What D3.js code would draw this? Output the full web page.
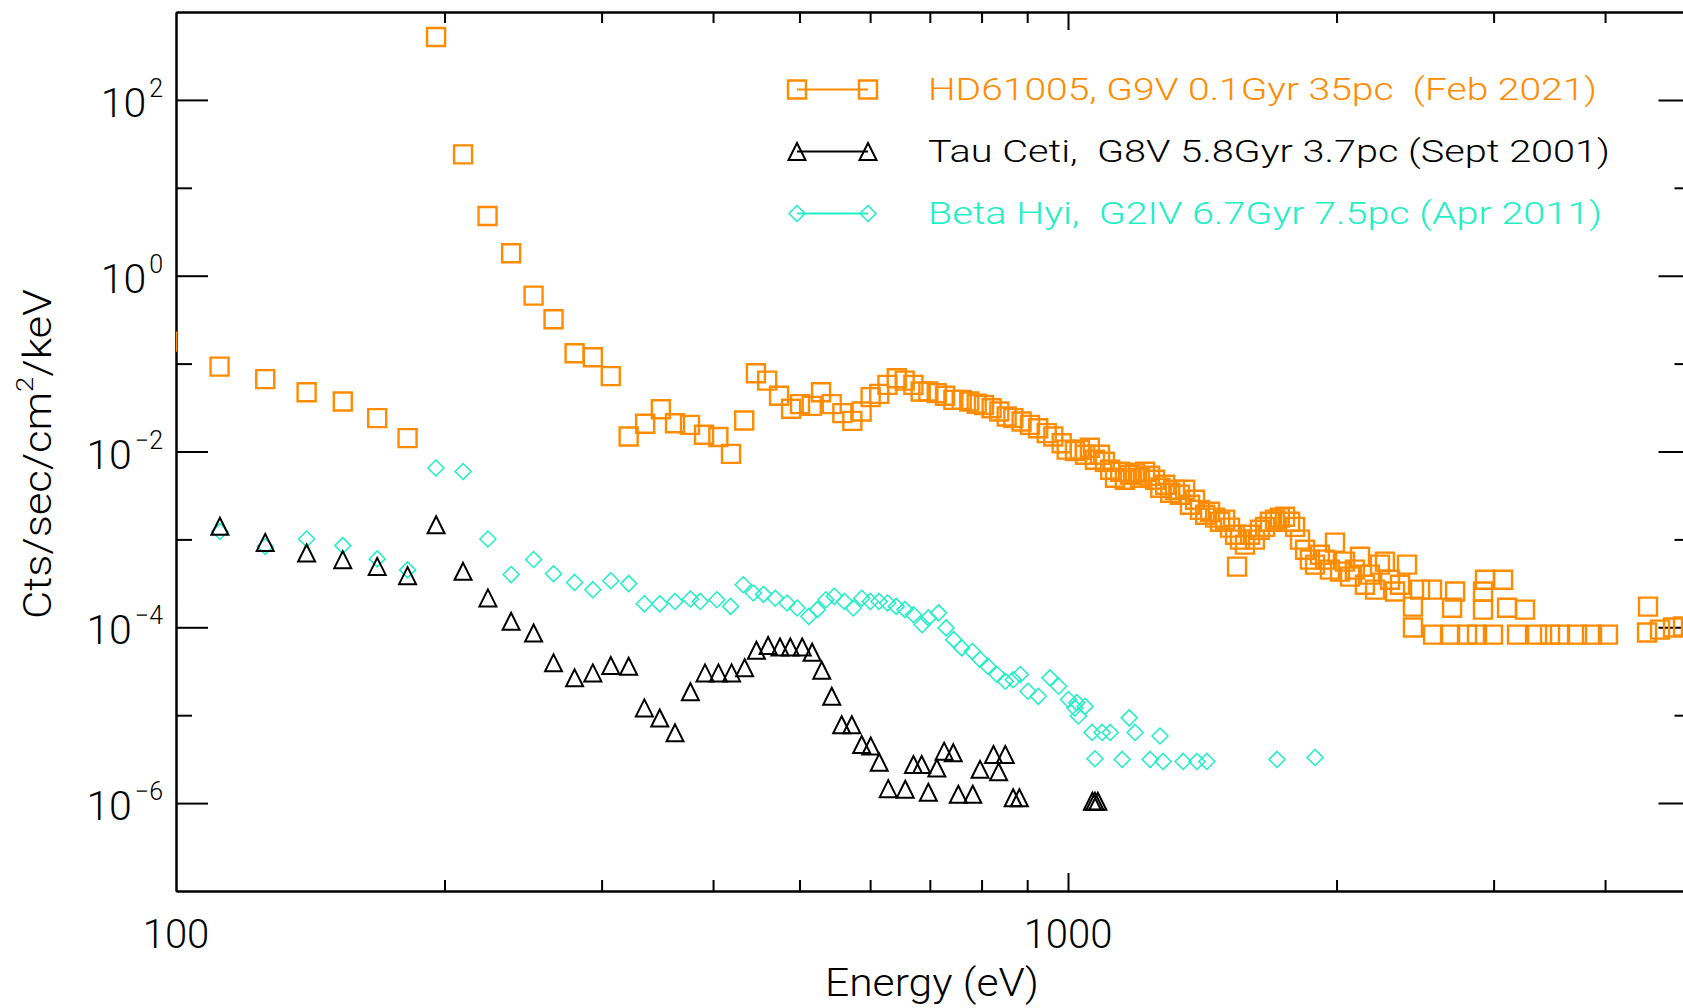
<!DOCTYPE html>
<html lang="en">
<head>
<meta charset="UTF-8">
<title>X-ray spectra of three G stars</title>
<style>
    html, body { margin: 0; padding: 0; background: #fff; }
    svg { display: block; }
    text { font-family: 'Roboto', 'Liberation Sans Narrow', 'Liberation Sans', sans-serif; font-weight: 300; white-space: pre; }
</style>
</head>
<body>
<script src="https://cdn.jsdelivr.net/npm/d3@7"></script>
<script>

    // HD61005 (orange squares)
    var hdEnergy = [97.7, 111.9, 125.9, 140.1, 153.8, 168.1, 181.8, 195.7, 209.8, 223.5, 237.5, 251.7, 265, 279.8,
        293.3, 307.2, 321.7, 335.7, 349.6, 362.6, 376.9, 390.8, 405.5, 419, 433.5, 446.8, 460, 474.3, 489.3, 500.7,
        516, 528.6, 543.4, 558.5, 573.1, 587, 600.8, 614.3, 627.4, 642.7, 656, 670.9, 683.7, 697.3, 712.6, 728,
        743.8, 760, 775, 790, 805, 821, 837.5, 853.5, 868.4, 887, 906.5, 926, 946.5, 962.7, 983.8, 996.6, 1018,
        1031, 1045, 1058, 1072, 1086, 1100, 1115, 1129, 1144, 1158, 1173, 1189, 1204, 1220, 1236, 1252, 1269, 1285,
        1302, 1318, 1335, 1353, 1370, 1388, 1406, 1425, 1443, 1462, 1481, 1500, 1519, 1539, 1547, 1559, 1579, 1600,
        1620, 1641, 1663, 1684, 1706, 1728, 1751, 1774, 1797, 1820, 1844, 1867, 1892, 1916, 1941, 1966, 1992, 2018,
        2044, 2071, 2097, 2125, 2152, 2180, 2209, 2237, 2266, 2296, 2326, 2356, 2399, 2436, 2436, 2481, 2559, 2566,
        2681, 2695, 2716, 2801, 2874, 2919, 2919, 2934, 2995, 3074, 3106, 3187, 3253, 3356, 3470, 3561, 3721, 3867,
        4030, 4458, 4469, 4610, 4767, 4892];
    var hdFlux = [0.178, 0.0925, 0.0665, 0.0473, 0.037, 0.024, 0.0142, 520, 24, 4.77, 1.8, 0.593, 0.32, 0.131,
        0.118, 0.072, 0.0148, 0.0207, 0.0303, 0.021, 0.0201, 0.0155, 0.0146, 0.0094, 0.0225, 0.0778, 0.0641, 0.043,
        0.0306, 0.0346, 0.033, 0.0473, 0.0346, 0.0273, 0.0223, 0.0285, 0.0415, 0.0453, 0.0573, 0.0682, 0.064,
        0.0573, 0.0481, 0.0481, 0.0461, 0.043, 0.0387, 0.0387, 0.037, 0.035, 0.0338, 0.0311, 0.0285, 0.025, 0.024,
        0.0219, 0.0201, 0.0184, 0.0162, 0.0148, 0.0124, 0.0105, 0.0101,
        0.01045, 0.00917, 0.01102, 0.00805, 0.00917, 0.00764, 0.00619, 0.00503, 0.00588, 0.00477, 0.00543, 0.00573,
        0.00503, 0.00588, 0.0053, 0.00477, 0.00387, 0.00418, 0.0034, 0.00367, 0.00322, 0.00367, 0.00248, 0.00283,
        0.00217, 0.00191, 0.00206, 0.00177, 0.00159, 0.00168, 0.00136, 0.00113, 0.00049, 0.000993, 0.000871,
        0.00113, 0.000993, 0.00129, 0.00139, 0.00159, 0.00168, 0.00177, 0.00181, 0.00159, 0.00139, 0.000993,
        0.000764, 0.000588, 0.000516, 0.00067, 0.000588, 0.000453, 0.000918, 0.00043, 0.000558, 0.000377,
        0.000453, 0.000636, 0.000305, 0.000397, 0.000268, 0.000516, 0.000558, 0.000348, 0.000255, 0.000305,
        0.000516, 0.000172, 0.0000993, 0.000268, 0.000268, 0.0000826, 0.0000826, 0.000167, 0.000255, 0.0000826,
        0.0000826, 0.000255, 0.000159, 0.000348, 0.0000826, 0.000348, 0.000167, 0.0000826, 0.000159, 0.0000826,
        0.0000826, 0.0000826, 0.0000826, 0.0000826, 0.0000826, 0.0000871, 0.000172, 0.0000942, 0.0000993, 0.000102];

    // Tau Ceti (black triangles)
    var tauEnergy = [112, 125.9, 140.1, 153.8, 168.1, 181.8, 195.7, 209.8, 223.7, 237.5, 251.7, 265, 279.8, 293.3,
        307.2, 321.7, 335, 348.6, 362.6, 377.3, 391.8, 405.6, 419.6, 434, 447.4, 461.1, 475.5, 488.3, 503.5, 516.6,
        529.6, 543.4, 557.5, 572.3, 587.1, 601, 614.3, 628.7, 657, 671, 685.4, 697.3, 712.8, 726.3, 743.6, 753.4,
        782, 796.9, 825, 836, 850.5, 868, 882, 1065, 1072, 1080];
    var tauFlux = [1.41e-3, 9.25e-4, 7.0e-4, 5.88e-4, 4.93e-4, 3.87e-4, 1.47e-3, 4.33e-4, 2.16e-4, 1.17e-4, 8.6e-5,
        3.94e-5, 2.66e-5, 3.03e-5, 3.67e-5, 3.61e-5, 1.21e-5, 9.3e-6, 6.3e-6, 1.85e-5, 3.03e-5, 3.03e-5, 3.03e-5,
        3.46e-5, 5.48e-5, 6.2e-5, 5.98e-5, 5.98e-5, 5.98e-5, 5.2e-5, 3.25e-5, 1.64e-5, 7.8e-6, 7.8e-6, 4.65e-6,
        4.45e-6, 2.92e-6, 1.46e-6, 1.44e-6, 2.75e-6, 2.75e-6, 1.33e-6, 2.5e-6, 3.9e-6, 3.74e-6, 1.26e-6, 1.26e-6,
        2.42e-6, 3.57e-6, 2.27e-6, 3.57e-6, 1.15e-6, 1.15e-6, 1.05e-6, 1.05e-6, 1.05e-6];

    // Beta Hyi (cyan diamonds)
    var betaEnergy = [97.7, 112, 125.9, 140.1, 153.8, 168.1, 181.8, 195.6, 209.8, 223.7, 237.5, 251.7, 265, 279.8,
        293.3, 307.2, 321.7, 335, 348.6, 362.6, 377.3, 387, 404, 418.5, 432.4, 443.8, 455.6, 469.7, 484.2, 497,
        512.2, 523.6, 535.2, 547, 561.6, 574.4, 587.2, 600.4, 613.9, 627.6, 641.8, 656.3, 671, 686.2, 697.3, 715.8,
        730, 744.5, 760, 781, 796.9, 813.3, 832.7, 850.5, 868, 884, 901.8, 926, 954.4, 976, 1001, 1018, 1023, 1027,
        1045, 1064, 1072, 1092, 1115, 1150, 1171, 1189, 1236, 1268, 1278, 1346, 1395, 1431, 1715, 1892];
    var betaFlux = [1.55e-3, 1.23e-3, 8.3e-4, 1.01e-3, 8.5e-4, 6.0e-4, 4.5e-4, 6.48e-3, 5.93e-3, 1.01e-3, 3.98e-4,
        5.9e-4, 4.07e-4, 3.24e-4, 2.68e-4, 3.39e-4, 3.14e-4, 1.85e-4, 1.85e-4, 1.97e-4, 2.1e-4, 1.97e-4, 2.06e-4,
        1.73e-4, 3.05e-4, 2.46e-4, 2.37e-4, 2.14e-4, 1.89e-4, 1.66e-4, 1.33e-4, 1.59e-4, 2.06e-4, 2.25e-4, 1.97e-4,
        1.66e-4, 2.14e-4, 1.97e-4, 1.97e-4, 1.89e-4, 1.73e-4, 1.59e-4, 1.39e-4, 1.07e-4, 1.28e-4, 1.46e-4, 9.85e-5,
        7.24e-5, 5.83e-5, 5.33e-5, 4.3e-5, 3.6e-5, 2.9e-5, 2.43e-5, 2.53e-5, 2.9e-5, 1.87e-5, 1.64e-5, 2.66e-5,
        2.14e-5, 1.51e-5, 1.21e-5, 1.39e-5, 9.8e-6, 1.26e-5, 6.37e-6, 3.2e-6, 6.37e-6, 6.37e-6, 3.14e-6, 9.33e-6,
        6.37e-6, 3.14e-6, 5.8e-6, 2.98e-6, 2.98e-6, 2.98e-6, 2.98e-6, 3.14e-6, 3.3e-6];

    var legendLabels = ['HD61005, G9V 0.1Gyr 35pc  (Feb 2021)',
        'Tau Ceti,  G8V 5.8Gyr 3.7pc (Sept 2001)',
        'Beta Hyi,  G2IV 6.7Gyr 7.5pc (Apr 2011)'];

    var xMajorTicks = [1000];
    var xMinorTicks = [200, 300, 400, 500, 600, 700, 800, 900, 2000, 3000, 4000];
    var xTickLabels = [100, 1000];
    var yMajorTicks = [1e2, 1e0, 1e-2, 1e-4, 1e-6];
    var yMinorTicks = [1e1, 1e-1, 1e-3, 1e-5];

    var width = 1683,
        height = 1008;

    var orange = '#ff8c00',
        cyan = '#1ef0c6',
        black = '#000';

    var x = d3.scaleLog()
        .domain([100, 5000])
        .range([176, 1691.5]);

    var y = d3.scaleLog()
        .domain([1e-7, 1e3])
        .range([891, 12]);

    var svg = d3.select('body').append('svg')
        .attr('width', width)
        .attr('height', height);

    svg.append('defs').append('clipPath')
        .attr('id', 'plot-clip')
        .append('rect')
        .attr('x', x.range()[0])
        .attr('y', y.range()[1])
        .attr('width', x.range()[1] - x.range()[0])
        .attr('height', y.range()[0] - y.range()[1]);

    function axis(fn, scale, ticks, size, tx, ty) {
        var g = svg.append('g')
            .attr('transform', 'translate(' + tx + ',' + ty + ')')
            .call(fn(scale).tickValues(ticks).tickSizeInner(-size).tickSizeOuter(0).tickFormat(''));
        g.selectAll('path, line').attr('stroke', '#000').attr('stroke-width', 2);
        return g;
    }

    var x0 = x.range()[0], x1 = x.range()[1];
    var yb = y.range()[0], yt = y.range()[1];

    axis(d3.axisBottom, x, xMajorTicks, 18, 0, yb);
    axis(d3.axisBottom, x, xMinorTicks, 11, 0, yb);
    axis(d3.axisTop, x, xMajorTicks, 18, 0, yt);
    axis(d3.axisTop, x, xMinorTicks, 11, 0, yt);
    axis(d3.axisLeft, y, yMajorTicks, 32, x0, 0);
    axis(d3.axisLeft, y, yMinorTicks, 16, x0, 0);
    axis(d3.axisRight, y, yMajorTicks, 33, x1, 0);
    axis(d3.axisRight, y, yMinorTicks, 17, x1, 0);

    // y tick labels: 10^n
    var yl = svg.selectAll('.ylab')
        .data(yMajorTicks)
        .enter()
        .append('text')
        .attr('class', 'ylab')
        .attr('x', x0 - 13)
        .attr('y', d => y(d) + 17)
        .attr('text-anchor', 'end')
        .attr('fill', '#000');
    yl.append('tspan')
        .attr('font-size', 41)
        .text('10');
    yl.append('tspan')
        .attr('font-size', 25)
        .attr('dy', -20)
        .attr('dx', 3)
        .text(d => {
            var e = Math.round(Math.log10(d));
            return e < 0 ? '\u2212' + (-e) : String(e);
        });

    svg.selectAll('.xlab')
        .data(xTickLabels)
        .enter()
        .append('text')
        .attr('class', 'xlab')
        .attr('x', d => x(d))
        .attr('y', yb + 57)
        .attr('text-anchor', 'middle')
        .attr('font-size', 40)
        .text(d => d);

    svg.append('text')
        .attr('x', 932)
        .attr('y', 996)
        .attr('text-anchor', 'middle')
        .attr('font-size', 38)
        .attr('textLength', 214)
        .attr('lengthAdjust', 'spacingAndGlyphs')
        .text('Energy (eV)');

    var yTitle = svg.append('text')
        .attr('transform', 'translate(51,454) rotate(-90)')
        .attr('text-anchor', 'middle')
        .attr('font-size', 38)
        .attr('textLength', 330)
        .attr('lengthAdjust', 'spacingAndGlyphs');
    yTitle.append('tspan').text('Cts/sec/cm');
    yTitle.append('tspan').attr('font-size', 24).attr('dy', -18).text('2');
    yTitle.append('tspan').attr('dy', 18).text('/keV');

    // marker shapes
    function squarePath(s) {
        var h = s / 2;
        return 'M' + (-h) + ',' + (-h) + 'H' + h + 'V' + h + 'H' + (-h) + 'Z';
    }
    function trianglePath(s) {
        var h = s / 2;
        return 'M0,' + (-h) + 'L' + h + ',' + h + 'H' + (-h) + 'Z';
    }
    function diamondPath(s) {
        var h = s / 2;
        return 'M0,' + (-h) + 'L' + h + ',0L0,' + h + 'L' + (-h) + ',0Z';
    }

    var series = [
        {name: 'hd', energy: hdEnergy, flux: hdFlux, color: orange, shape: squarePath(18), sw: 2.4},
        {name: 'tau', energy: tauEnergy, flux: tauFlux, color: black, shape: trianglePath(17), sw: 2},
        {name: 'beta', energy: betaEnergy, flux: betaFlux, color: cyan, shape: diamondPath(16), sw: 1.5}
    ];

    var plot = svg.append('g').attr('clip-path', 'url(#plot-clip)');

    series.slice().reverse().forEach(function (s) {
        plot.selectAll('.pt-' + s.name)
            .data(s.energy.map((e, i) => [e, s.flux[i]]))
            .enter()
            .append('path')
            .attr('class', 'pt-' + s.name)
            .attr('d', s.shape)
            .attr('transform', d => 'translate(' + x(d[0]) + ',' + y(d[1]) + ')')
            .attr('fill', 'none')
            .attr('stroke', s.color)
            .attr('stroke-width', s.sw);
    });

    // legend
    var legendWidths = [669, 682, 674];
    var lg = svg.selectAll('.legend')
        .data(series)
        .enter()
        .append('g')
        .attr('class', 'legend')
        .attr('transform', (d, i) => 'translate(0,' + (89.5 + i * 62) + ')');

    lg.append('line')
        .attr('x1', 797)
        .attr('x2', 868)
        .attr('stroke', d => d.color)
        .attr('stroke-width', 2);
    lg.selectAll('.lm')
        .data(d => [[797, d], [868, d]])
        .enter()
        .append('path')
        .attr('d', d => d[1].shape)
        .attr('transform', d => 'translate(' + d[0] + ',0)')
        .attr('fill', 'none')
        .attr('stroke', d => d[1].color)
        .attr('stroke-width', d => d[1].sw);
    lg.append('text')
        .attr('x', 928)
        .attr('y', 10.5)
        .attr('font-size', 31)
        .attr('fill', d => d.color)
        .attr('textLength', (d, i) => legendWidths[i])
        .attr('lengthAdjust', 'spacingAndGlyphs')
        .text((d, i) => legendLabels[i]);

</script>
</body>
</html>
